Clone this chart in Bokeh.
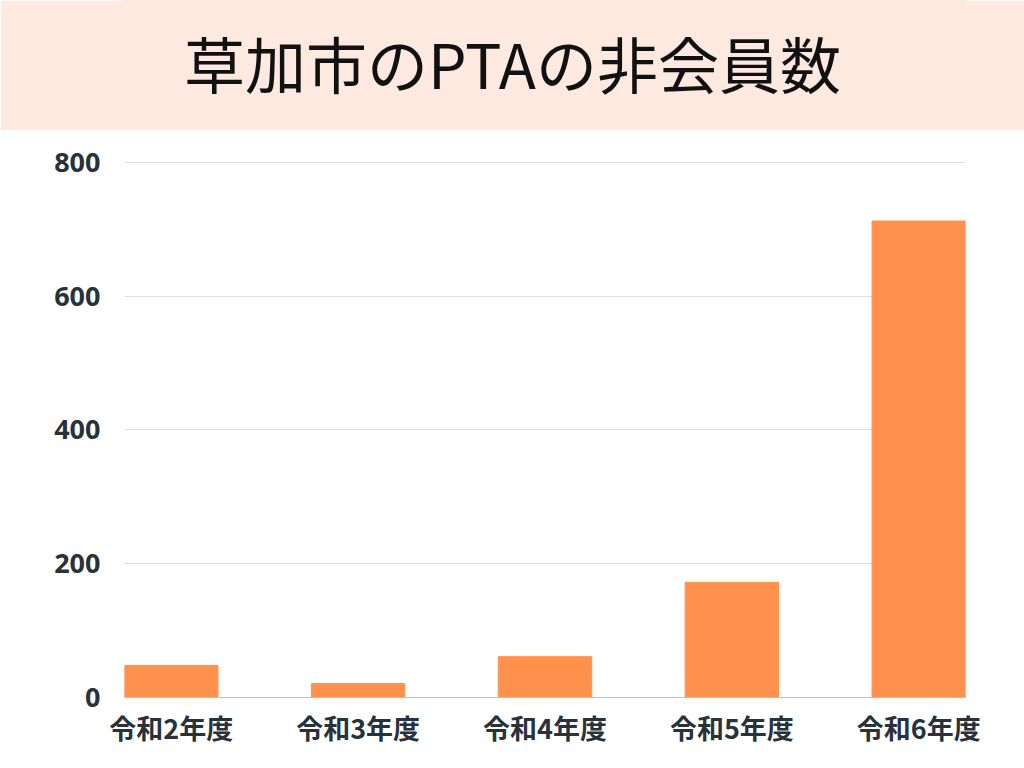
from bokeh.plotting import figure
from bokeh.layouts import column
from bokeh.models import Range1d, FixedTicker
from bokeh.core.properties import value
from bokeh.embed import file_html
from bokeh.resources import INLINE

title_text = "草加市のPTAの非会員数"
categories = ["令和2年度", "令和3年度", "令和4年度", "令和5年度", "令和6年度"]
counts = [48, 21, 61, 172, 712]
y_ticks = [0, 200, 400, 600, 800]

W = 1024
band_color = "#FDE9DF"
bar_color = "#FF914D"
text_color = "#27323B"

# title band (frame gets aligned with the chart's frame, so use pixel-like range)
t = figure(width=W, height=130, x_range=Range1d(124, 965), y_range=Range1d(0, 1),
           x_axis_type=None, y_axis_type=None,
           output_backend="svg", toolbar_location=None,
           min_border=0, min_border_left=0, min_border_right=0,
           min_border_top=0, min_border_bottom=0)
t.grid.visible = False
t.outline_line_color = band_color
t.outline_line_width = 3
t.background_fill_color = band_color
t.border_fill_color = band_color
t.text(x=[512], y=[0.52], text=[title_text], text_align="center",
       text_baseline="middle", text_font=value("Noto Sans CJK JP"),
       text_font_size="61px", text_color="#111111")

# bar chart
xs = list(range(len(categories)))
p = figure(width=W, height=638, x_range=Range1d(-0.25, len(categories) - 0.75),
           y_range=Range1d(0, 801), output_backend="svg", toolbar_location=None,
           min_border_left=124, min_border_right=59, min_border_top=31,
           min_border_bottom=71)
p.vbar(x=xs, top=counts, width=0.5, color=bar_color)
p.outline_line_color = None
p.background_fill_color = "white"
p.border_fill_color = "white"
p.xgrid.visible = False
p.ygrid.grid_line_color = "#DDDDDD"
p.ygrid.grid_line_width = 1
p.ygrid.ticker = FixedTicker(ticks=y_ticks)

p.yaxis.ticker = FixedTicker(ticks=y_ticks)
p.yaxis.axis_line_color = None
p.yaxis.major_tick_line_color = None
p.yaxis.minor_tick_line_color = None
p.yaxis.major_label_standoff = 18
p.yaxis.major_label_text_font = "Open Sans"
p.yaxis.major_label_text_font_style = "bold"
p.yaxis.major_label_text_font_size = "27px"
p.yaxis.major_label_text_color = text_color

p.xaxis.ticker = FixedTicker(ticks=xs)
p.xaxis.major_label_overrides = {i: c for i, c in zip(xs, categories)}
p.xaxis.axis_line_color = "#BFBFBF"
p.xaxis.axis_line_width = 1
p.xaxis.major_tick_line_color = None
p.xaxis.minor_tick_line_color = None
p.xaxis.major_label_standoff = 4
p.xaxis.major_label_text_font = "Noto Sans CJK JP"
p.xaxis.major_label_text_font_style = "bold"
p.xaxis.major_label_text_font_size = "27px"
p.xaxis.major_label_text_color = text_color

layout = column(t, p, spacing=0)
open("out.html", "w").write(file_html(layout, INLINE))
